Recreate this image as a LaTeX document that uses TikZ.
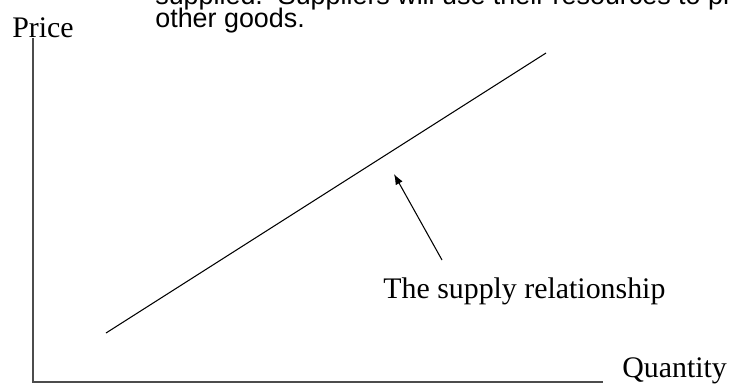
\documentclass[tikz,border=0pt]{standalone}
\usepackage{fontspec}
\setmainfont{Liberation Serif}
\newfontfamily\notefont{Liberation Sans}
\usetikzlibrary{arrows.meta}
\begin{document}
\begin{tikzpicture}[
    x=0.02cm, y=-0.02cm,
    lbl/.style={inner sep=0pt, anchor=base west, font=\fontsize{17}{20}\selectfont},
    note/.style={inner sep=0pt, anchor=base west, font=\notefont\fontsize{15.3}{17}\selectfont},
    axis/.style={draw=black!70, line width=0.8pt},
    curve/.style={draw, line width=0.6pt},
    arrow/.style={-{Latex[length=6pt,width=4.5pt]}, line width=0.6pt}
]
\useasboundingbox (0,0) rectangle (732,387);
\clip (0,0) rectangle (732,387);
% text cut off at the top of the page
\node[note] (line1) at (155,4) {supplied.\ \ Suppliers will use their resources to produce};
\node[note] (line2) at (155,27) {other goods.};
% axes
\coordinate (origin) at (33,382);
\coordinate (ytop) at (33,38);
\coordinate (xend) at (603,382);
\draw[axis] (ytop) -- (origin) -- (xend);
\node[lbl] (price) at (12,37) {Price};
\node[lbl] (qty) at (622,377) {Quantity};
% supply line
\coordinate (s1) at (106,333);
\coordinate (s2) at (546,53);
\draw[curve] (s1) -- (s2);
\node[lbl] (supply) at (383,298) {The supply relationship};
\coordinate (tail) at (442,260);
\coordinate (tip) at (394,174);
\draw[arrow] (tail) -- (tip);
\end{tikzpicture}
\end{document}
